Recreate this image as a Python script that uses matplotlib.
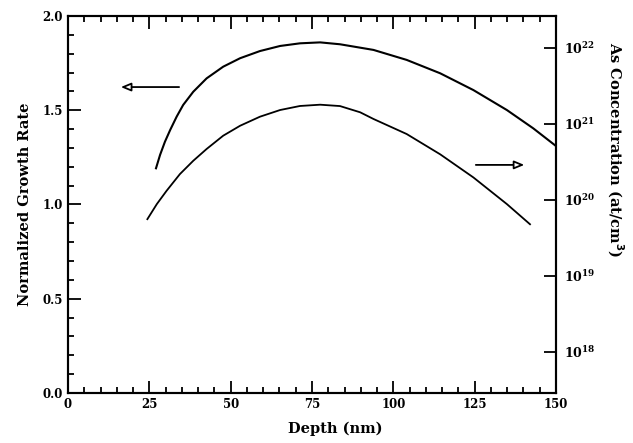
import numpy as np
import matplotlib
matplotlib.use("Agg")
import matplotlib.pyplot as plt
from matplotlib.ticker import MultipleLocator, LogLocator, LogFormatterMathtext

# growth rate curve (left axis)
rate_depth = [27.05, 28.3, 29.8, 31.4, 33.4, 35.4, 38.5, 42.6, 47.7, 52.9, 59.0,
              65.2, 71.3, 77.5, 83.6, 93.9, 104.1, 114.4, 124.6, 134.9, 143.0, 150.0]
rate_value = [1.192, 1.263, 1.333, 1.395, 1.466, 1.528, 1.598, 1.669, 1.731, 1.776, 1.814,
              1.841, 1.855, 1.860, 1.850, 1.820, 1.767, 1.696, 1.607, 1.501, 1.404, 1.31]

# As concentration curve (right axis, log10 of at/cm^3)
conc_depth = [24.4, 27.3, 30.3, 34.4, 38.5, 42.6, 47.7, 52.9, 59.0, 65.2, 71.3,
              77.5, 83.6, 89.8, 93.9, 104.1, 114.4, 124.6, 134.9, 142.0]
conc_log = [19.747, 19.945, 20.12, 20.34, 20.515, 20.67, 20.845, 20.976, 21.095, 21.183, 21.236,
            21.253, 21.235, 21.153, 21.065, 20.867, 20.60, 20.296, 19.945, 19.68]

plt.rcParams['font.family'] = ['DejaVu Serif']
plt.rcParams['font.weight'] = 'bold'
plt.rcParams['mathtext.default'] = 'bf'

fig = plt.figure(figsize=(6.33, 4.43), dpi=100)
ax = fig.add_axes([0.1074, 0.1129, 0.7710, 0.8510])
ax2 = ax.twinx()

ax.plot(rate_depth, rate_value, color='black', lw=1.5)
ax2.plot(conc_depth, 10 ** np.array(conc_log), color='black', lw=1.3)

ax.set_xlim(0, 150)
ax.set_ylim(0, 2.0)
ax2.set_yscale('log')
ax2.set_ylim(10 ** 17.46, 10 ** 22.42)

ax.xaxis.set_major_locator(MultipleLocator(25))
ax.xaxis.set_minor_locator(MultipleLocator(5))
ax.yaxis.set_major_locator(MultipleLocator(0.5))
ax.yaxis.set_minor_locator(MultipleLocator(0.1))
ax.yaxis.set_major_formatter(plt.FormatStrFormatter('%.1f'))
ax2.yaxis.set_major_locator(LogLocator(base=10, numticks=10))
ax2.yaxis.set_major_formatter(LogFormatterMathtext())
ax2.yaxis.set_minor_locator(plt.NullLocator())

ax.tick_params(which='both', direction='in', top=True, right=False, labelsize=8.5, width=1.3)
ax.tick_params(which='major', length=9)
ax.tick_params(which='minor', length=4)
ax2.tick_params(which='major', direction='in', length=9, width=1.3, labelsize=9, pad=6)

for a in (ax, ax2):
    for s in a.spines.values():
        s.set_linewidth(1.5)

ax.set_xlabel('Depth (nm)', fontsize=10.5, fontweight='bold')
ax.xaxis.set_label_coords(0.547, -0.077)
ax.set_ylabel('Normalized Growth Rate', fontsize=10.5, fontweight='bold', labelpad=8)
ax2.set_ylabel('As Concentration (at/cm$^3$)', fontsize=10.5, fontweight='bold',
               rotation=-90, va='center', ha='center')
ax2.yaxis.set_label_coords(1.121, 0.645)

arrow = dict(arrowstyle='-|>,head_length=0.6,head_width=0.25', fc='white', ec='black', lw=1.3)
ax.annotate('', xy=(15.4, 1.623), xytext=(35.0, 1.623), arrowprops=arrow)
ax.annotate('', xy=(141.1, 1.21), xytext=(124.5, 1.21), arrowprops=arrow)

fig.savefig('out.png', dpi=100)
